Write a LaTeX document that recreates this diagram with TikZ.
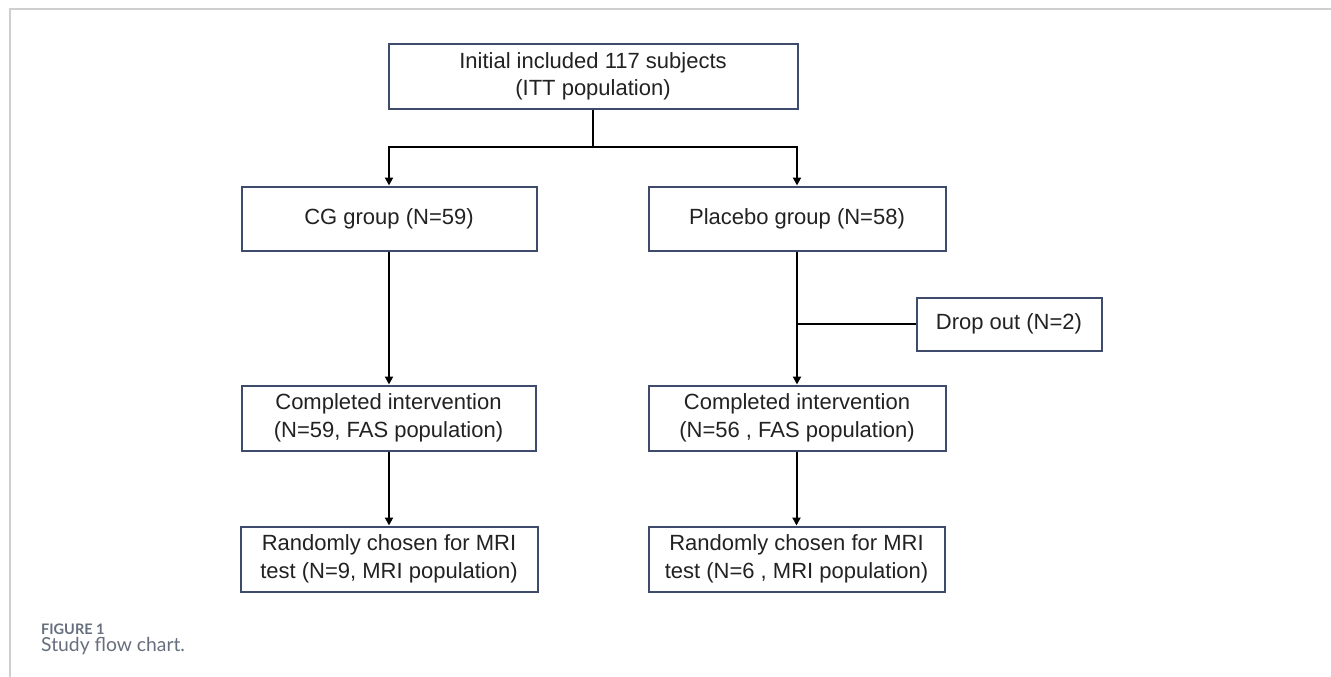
\documentclass[tikz,border=0pt]{standalone}
\usepackage{fontspec}
\setmainfont{Liberation Sans}
\newfontfamily\capfont{Lato}
\usetikzlibrary{arrows.meta}
\definecolor{boxline}{HTML}{3E4B6B}
\definecolor{txt}{HTML}{222222}
\definecolor{capgray}{HTML}{666F7E}
\definecolor{framegray}{HTML}{CFCFCF}
\tikzset{
  flowbox/.style={draw=boxline, line width=2pt, fill=white, text=txt,
    align=center, inner sep=0pt, font=\fontsize{22}{27.5}\selectfont},
  conn/.style={draw=black, line width=2pt},
  arr/.style={conn, -{Triangle[length=8pt,width=8pt]}},
}
\begin{document}
\begin{tikzpicture}[x=1pt,y=-1pt]
\useasboundingbox (0,0) rectangle (1331,677);
\fill[white] (0,0) rectangle (1331,677);
% frame
\draw[framegray, line width=2pt] (9.5,677) -- (9.5,9.5) -- (1331,9.5);
% nodes
\node[flowbox, minimum width=409pt, minimum height=64pt] (top) at (593,76.5)
  {Initial included 117 subjects\\(ITT population)};
\node[flowbox, minimum width=295pt, minimum height=64pt] (cg) at (389,218.5)
  {CG group (N=59)};
\node[flowbox, minimum width=297pt, minimum height=64pt] (pl) at (797,218.5)
  {Placebo group (N=58)};
\node[flowbox, minimum width=185pt, minimum height=53pt] (drop) at (1009,324)
  {Drop out (N=2)};
\node[flowbox, minimum width=294pt, minimum height=65pt] (c1) at (388.5,418)
  {Completed intervention\\(N=59, FAS population)};
\node[flowbox, minimum width=297pt, minimum height=65pt] (c2) at (797,418)
  {Completed intervention\\(N=56 , FAS population)};
\node[flowbox, minimum width=297pt, minimum height=65pt] (r1) at (389,559)
  {Randomly chosen for MRI\\test (N=9, MRI population)};
\node[flowbox, minimum width=296pt, minimum height=65pt] (r2) at (796.5,559)
  {Randomly chosen for MRI\\test (N=6 , MRI population)};
% connectors
\coordinate (split) at (593,147);
\draw[conn] (top.south) -- (split);
\draw[arr] (split) -| (cg.north);
\draw[arr] (split) -| (pl.north);
\draw[arr] (cg.south) -- (c1.north -| cg.south);
\draw[arr] (pl.south) -- (c2.north -| pl.south);
\coordinate (join) at (drop.west -| pl.south);
\draw[conn] (drop.west) -- (join);
\draw[arr] (c1.south -| r1.north) -- (r1.north);
\draw[arr] (c2.south -| r2.north) -- (r2.north);
% caption
\node[anchor=base west, inner sep=0pt, text=capgray, font=\capfont\bfseries\fontsize{14.5}{17}\selectfont] (fig) at (41,634) {FIGURE 1};
\node[anchor=base west, inner sep=0pt, text=capgray, font=\capfont\fontsize{19.3}{22}\selectfont] (cap) at (41,651) {Study flow chart.};
\end{tikzpicture}
\end{document}
